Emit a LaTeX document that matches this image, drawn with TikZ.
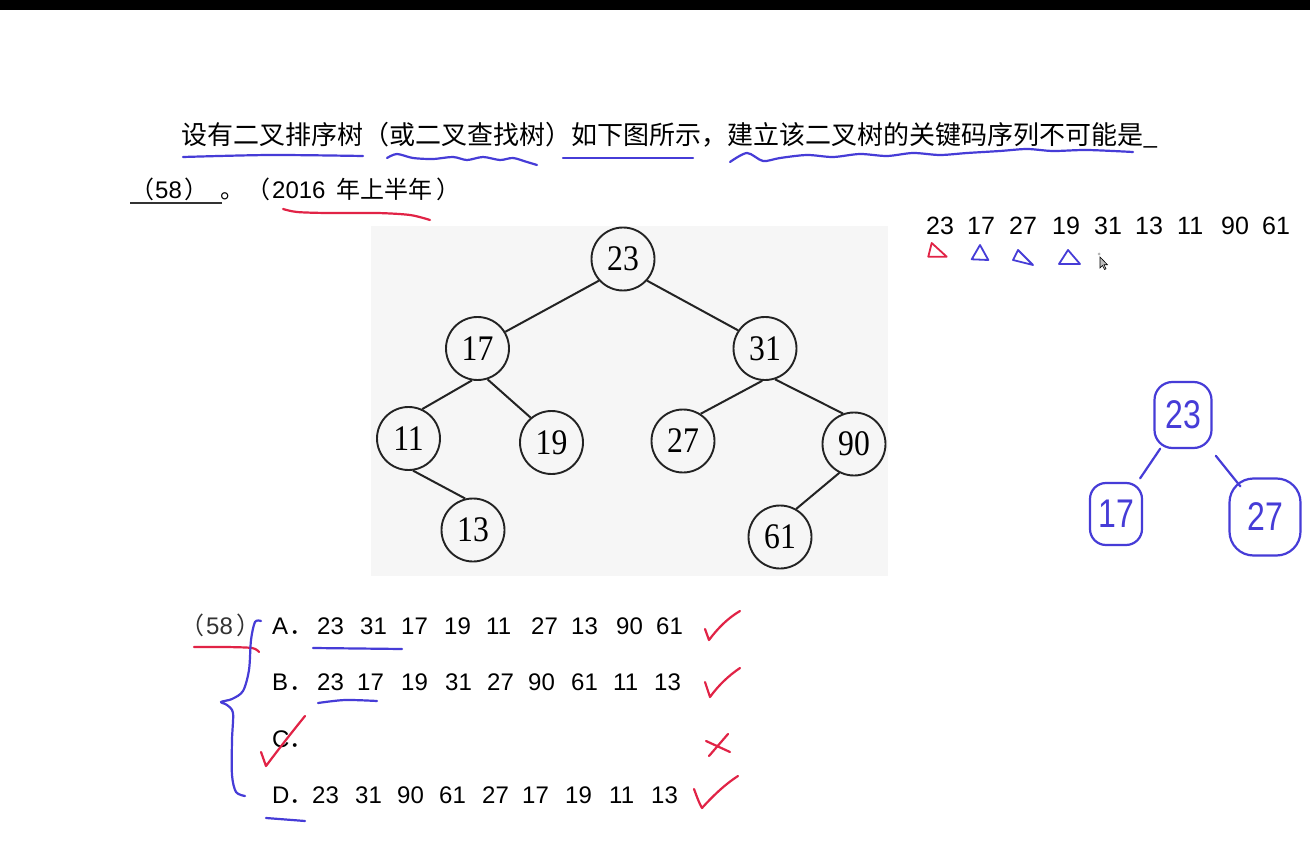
\documentclass[tikz,border=0pt]{standalone}
\usepackage{fontspec}
\setmainfont{Liberation Sans}
\newfontfamily\cjk{Noto Sans CJK SC}
\newfontfamily\treefont[FakeStretch=0.88]{Liberation Serif}
\newfontfamily\handfont[FakeStretch=0.8]{Liberation Sans}
\usetikzlibrary{calc}
\definecolor{hblue}{RGB}{70,60,215}
\definecolor{hred}{RGB}{225,35,70}
\definecolor{treebg}{RGB}{246,246,246}
\definecolor{treeline}{RGB}{35,35,35}
\begin{document}
\begin{tikzpicture}[x=1pt,y=-1pt,
  bst/.style={circle,draw=treeline,line width=1.9pt,minimum size=63pt,inner sep=0pt,font=\treefont\fontsize{36}{36}\selectfont},
  edge/.style={draw=treeline,line width=2pt},
  txt/.style={anchor=base west,inner sep=0pt,font=\fontsize{24}{24}\selectfont},
  seq/.style={anchor=base west,inner sep=0pt,font=\fontsize{25}{25}\selectfont},
  q/.style={anchor=base west,inner sep=0pt,font=\cjk\fontsize{26}{26}\selectfont},
  q2/.style={anchor=base west,inner sep=0pt,font=\cjk\fontsize{24}{24}\selectfont},
  pen/.style={line width=2.2pt,line cap=round,line join=round},
  bpen/.style={pen,draw=hblue},
  rpen/.style={pen,draw=hred},
  hnode/.style={draw=hblue,line width=2.2pt,rounded corners=18pt,inner sep=0pt,text=hblue,font=\handfont\fontsize{40}{40}\selectfont},
]
\useasboundingbox (0,0) rectangle (1310,845);
\fill[white] (0,0) rectangle (1310,845);
\fill[black] (0,0) rectangle (1310,10);
\fill[treebg] (371,226) rectangle (888,576);

% question text
\node[q] (l1) at (181,145) {设有二叉排序树（或二叉查找树）如下图所示，建立该二叉树的关键码序列不可能是\_};
\node[q2] (p1) at (130,199) {（};
\node[txt] (n58) at (155,199) {58};
\node[q2] (p2) at (184,199) {）};
\node[q2] (dot) at (220,199) {。};
\node[q2] (p3) at (246,199) {（};
\node[txt] (yr) at (272,199) {2016};
\node[q2] (half) at (336,199) {年上半年};
\node[q2] (p4) at (436,199) {）};
\draw[line width=1.4pt,black!80] (130,203) -- (222,203);

% blue and red underlines of the question
\draw[bpen] plot[smooth] coordinates {(183,157) (270,155) (363,156)};
\draw[bpen] plot[smooth] coordinates {(387,158) (397,154) (413,158) (433,159) (453,157) (467,160) (483,157) (500,160) (513,158) (527,162) (537,165)};
\draw[bpen] (563,158) -- (693,158);
\draw[bpen] plot[smooth] coordinates {(730,162) (747,153) (763,161) (780,158) (807,155) (833,157) (860,154) (887,156) (913,153) (940,155) (967,153) (1000,151) (1027,149) (1053,151) (1087,150) (1133,152)};
\draw[rpen] plot[smooth] coordinates {(283,209) (297,212) (327,213) (377,213) (410,215) (430,220)};

% tree
\node[bst] (t23) at (623,259) {23};
\node[bst] (t17) at (477.5,348.5) {17};
\node[bst] (t31) at (765,348.5) {31};
\node[bst] (t11) at (408.5,438.5) {11};
\node[bst] (t19) at (551.5,442.5) {19};
\node[bst] (t27) at (683,441) {27};
\node[bst] (t90) at (854,444) {90};
\node[bst] (t13) at (473,530) {13};
\node[bst] (t61) at (780,537) {61};
\draw[edge] (t23.-138) -- (t17.31);
\draw[edge] (t23.-42) -- (t31.146);
\draw[edge] (t17.-100) -- (t11.65);
\draw[edge] (t17.-72) -- (t19.130);
\draw[edge] (t31.-95) -- (t27.57);
\draw[edge] (t31.-72) -- (t90.110);
\draw[edge] (t11.-82) -- (t13.104);
\draw[edge] (t90.-117) -- (t61.60);

% sequence on the right
\foreach \v/\x [count=\i] in {23/926,17/967,27/1009,19/1052,31/1094,13/1135,11/1177,90/1221,61/1262}
  \node[seq] (s\i) at (\x,235) {\v};
\draw[rpen,line width=1.8pt] (931.7,243) -- (928.3,256.7) -- (946.7,256.7) -- cycle;
\draw[bpen,line width=1.8pt] (980,245) -- (971.7,259.3) -- (988.3,260) -- cycle;
\draw[bpen,line width=1.8pt] (1018,250) -- (1013,260) -- (1033,265) -- cycle;
\draw[bpen,line width=1.8pt] (1068,250) -- (1059,264) -- (1080,264) -- cycle;
\fill[gray!60] (1099,254) circle (1.5);
\draw[black,fill=gray!50,line width=0.6pt] (1100,257) -- (1100,268) -- (1102.5,265.5) -- (1104.5,269.5) -- (1106,268.8) -- (1104,264.8) -- (1107.5,264.8) -- cycle;

% handwritten tree
\node[hnode,minimum width=57pt,minimum height=66pt] (h23) at (1183,415) {23};
\node[hnode,minimum width=52pt,minimum height=62pt,rounded corners=16pt] (h17) at (1116,514) {17};
\node[hnode,minimum width=71pt,minimum height=77pt,rounded corners=24pt] (h27) at (1265,517) {27};
\draw[bpen] ($(h23)!0.34!(h17)$) -- ($(h23)!0.64!(h17)$);
\draw[bpen] ($(h23)!0.40!(h27)$) -- ($(h23)!0.70!(h27)$);

% options
\node[q2,text=black!80] (o1) at (180,634) {（};
\node[txt,text=black!80] (o2) at (206,634) {58};
\node[q2,text=black!80] (o3) at (236,634) {）};
\draw[rpen] plot[smooth] coordinates {(194,647) (225,647) (252,648) (259,652)};
\draw[bpen] plot[smooth] coordinates {(261,621) (255,622) (251,640) (249,670) (243,691) (232,699) (221,702) (227,705) (233,713) (232,740) (232,775) (236,792) (245,796)};

\node[txt] (la) at (272,634) {A};
\node[q2] (da) at (289,634) {．};
\foreach \v/\x [count=\i] in {23/317,31/360,17/401,19/444,11/486,27/531,13/571,90/616,61/656}
  \node[txt] (a\i) at (\x,634) {\v};
\node[txt] (lb) at (272,690) {B};
\node[q2] (db) at (289,690) {．};
\foreach \v/\x [count=\i] in {23/317,17/357,19/401,31/445,27/487,90/528,61/571,11/613,13/654}
  \node[txt] (b\i) at (\x,690) {\v};
\node[txt] (lc) at (272,747) {C};
\node[q2] (dc) at (289,747) {．};
\node[txt] (ld) at (272,803) {D};
\node[q2] (dd) at (289,803) {．};
\foreach \v/\x [count=\i] in {23/312,31/355,90/397,61/439,27/482,17/522,19/565,11/609,13/651}
  \node[txt] (d\i) at (\x,803) {\v};

\draw[bpen] (313,648) -- (402,649);
\draw[bpen] plot[smooth] coordinates {(318,703) (345,700) (377,701)};
\draw[bpen] (266,818) -- (305,821);

% marks
\draw[rpen] (705,629) -- (709,640) .. controls (718,628) and (728,618) .. (740,611);
\draw[rpen] (705,682) -- (710,697) .. controls (718,686) and (728,676) .. (740,668);
\draw[rpen] (694,789) .. controls (697,797) and (699,803) .. (702,808) .. controls (712,797) and (724,785) .. (738,776);
\draw[rpen] (261,752) -- (266,766) .. controls (278,750) and (292,732) .. (305,716);
\draw[rpen] (728,734) -- (709,756);
\draw[rpen] (706,741) -- (730,752);
\end{tikzpicture}
\end{document}
